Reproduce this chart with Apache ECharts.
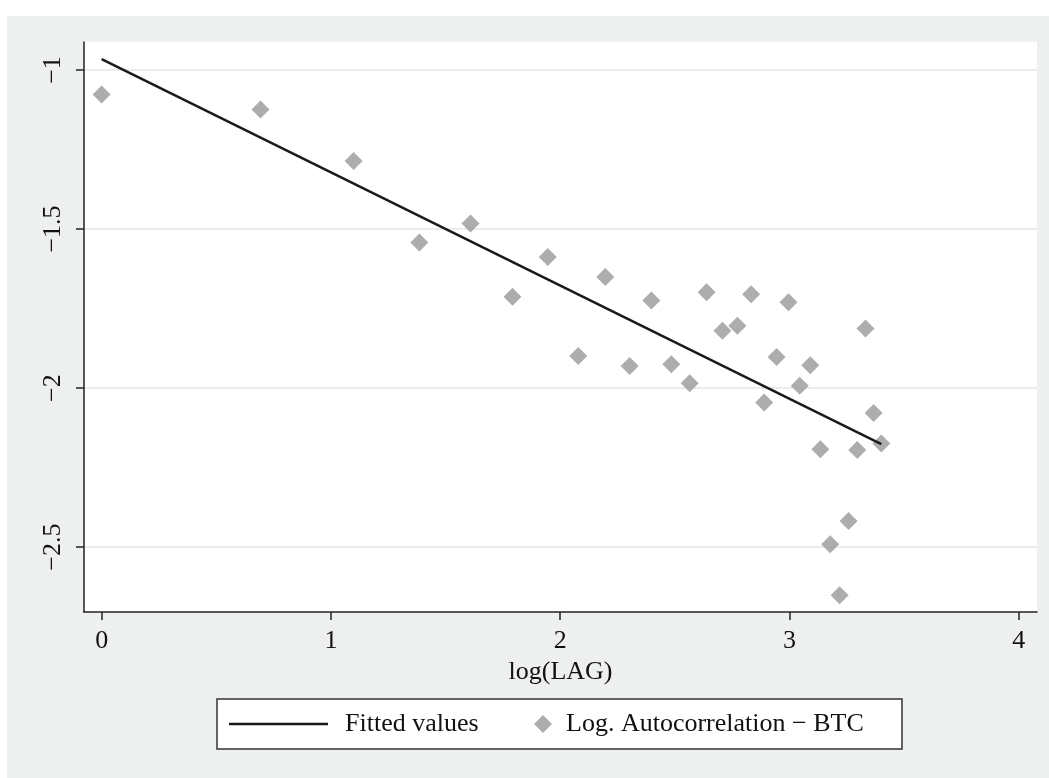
<!DOCTYPE html>
<html>
<head>
<meta charset="utf-8">
<script src="https://cdn.jsdelivr.net/npm/echarts@6/dist/echarts.min.js"></script>
<style>
html,body{margin:0;padding:0;background:#fff;}
#chart{width:1049px;height:778px;}
</style>
</head>
<body>
<div id="chart"></div>
<script>
// ---- data ----
const logLag = [0, 0.693, 1.099, 1.386, 1.609, 1.792, 1.946, 2.079, 2.197, 2.303,
  2.398, 2.485, 2.565, 2.639, 2.708, 2.773, 2.833, 2.890, 2.944, 2.996,
  3.045, 3.091, 3.135, 3.178, 3.219, 3.258, 3.296, 3.332, 3.367, 3.401];
const logAutocorr = [-1.077, -1.124, -1.286, -1.542, -1.483, -1.713, -1.588, -1.899, -1.651, -1.931,
  -1.725, -1.925, -1.985, -1.699, -1.820, -1.804, -1.705, -2.045, -1.902, -1.730,
  -1.993, -1.928, -2.192, -2.491, -2.651, -2.418, -2.195, -1.813, -2.078, -2.174];
const fitX = [0, 3.401];
const fitY = [-0.966, -2.176];
const xTicks = [0, 1, 2, 3, 4];
const yTicks = [-2.5, -2, -1.5, -1];
const xTitle = 'log(LAG)';
const seriesNames = ['Fitted values', 'Log. Autocorrelation \u2212 BTC'];

const FONT = '"Liberation Serif", "Times New Roman", serif';
const minusFmt = v => String(v).replace('-', '\u2212');

const chart = echarts.init(document.getElementById('chart'), null, {renderer: 'canvas'});
chart.setOption({
  backgroundColor: '#ffffff',
  animation: false,
  textStyle: {fontFamily: FONT},
  graphic: [
    {type: 'rect', z: -10, silent: true, shape: {x: 7, y: 16, width: 1042, height: 762}, style: {fill: '#eef0f0'}},
    {type: 'rect', z: 5, silent: true, shape: {x: 217, y: 699, width: 685, height: 50}, style: {fill: '#ffffff', stroke: '#333333', lineWidth: 1.5}}
  ],
  grid: {left: 84, top: 42, right: 12, bottom: 166, show: true, backgroundColor: '#ffffff', borderWidth: 0, containLabel: false},
  xAxis: {
    type: 'value', min: -0.077, max: 4.08,
    name: xTitle, nameLocation: 'middle', nameGap: 40,
    nameTextStyle: {fontFamily: FONT, fontSize: 26, color: '#111'},
    axisLine: {show: true, onZero: false, lineStyle: {color: '#222', width: 1.5}},
    axisTick: {show: true, length: 8, lineStyle: {color: '#222', width: 1.5}, customValues: xTicks},
    axisLabel: {fontFamily: FONT, fontSize: 26, color: '#111', margin: 16, customValues: xTicks, formatter: minusFmt},
    splitLine: {show: false}
  },
  yAxis: {
    type: 'value', min: -2.704, max: -0.912,
    axisLine: {show: true, onZero: false, lineStyle: {color: '#222', width: 1.5}},
    axisTick: {show: true, length: 8, lineStyle: {color: '#222', width: 1.5}, customValues: yTicks},
    axisLabel: {fontFamily: FONT, fontSize: 26, color: '#111', margin: 18, rotate: 90, customValues: yTicks, formatter: minusFmt},
    splitLine: {show: true, lineStyle: {color: '#e4e6e6', width: 1.5}}
  },
  legend: [
    {data: [{name: seriesNames[0], icon: 'rect'}], left: 229, top: 711, padding: 0, itemWidth: 99, itemHeight: 2.5, z: 10,
     itemStyle: {color: '#1a1a1a'},
     textStyle: {fontFamily: FONT, fontSize: 26, color: '#111', padding: [0, 0, 0, 12]}},
    {data: [seriesNames[1]], left: 534, top: 711, padding: 0, itemWidth: 18, itemHeight: 18, z: 10,
     textStyle: {fontFamily: FONT, fontSize: 26, color: '#111', padding: [0, 0, 0, 9]}}
  ],
  series: [
    {name: seriesNames[0], type: 'line', data: fitX.map((x, i) => [x, fitY[i]]),
     symbol: 'none', showSymbol: false, lineStyle: {color: '#1a1a1a', width: 2.5}, itemStyle: {color: '#1a1a1a'}, z: 3},
    {name: seriesNames[1], type: 'scatter', data: logLag.map((x, i) => [x, logAutocorr[i]]),
     symbol: 'diamond', symbolSize: 18, itemStyle: {color: '#999999'}, z: 2}
  ]
});
</script>
</body>
</html>
